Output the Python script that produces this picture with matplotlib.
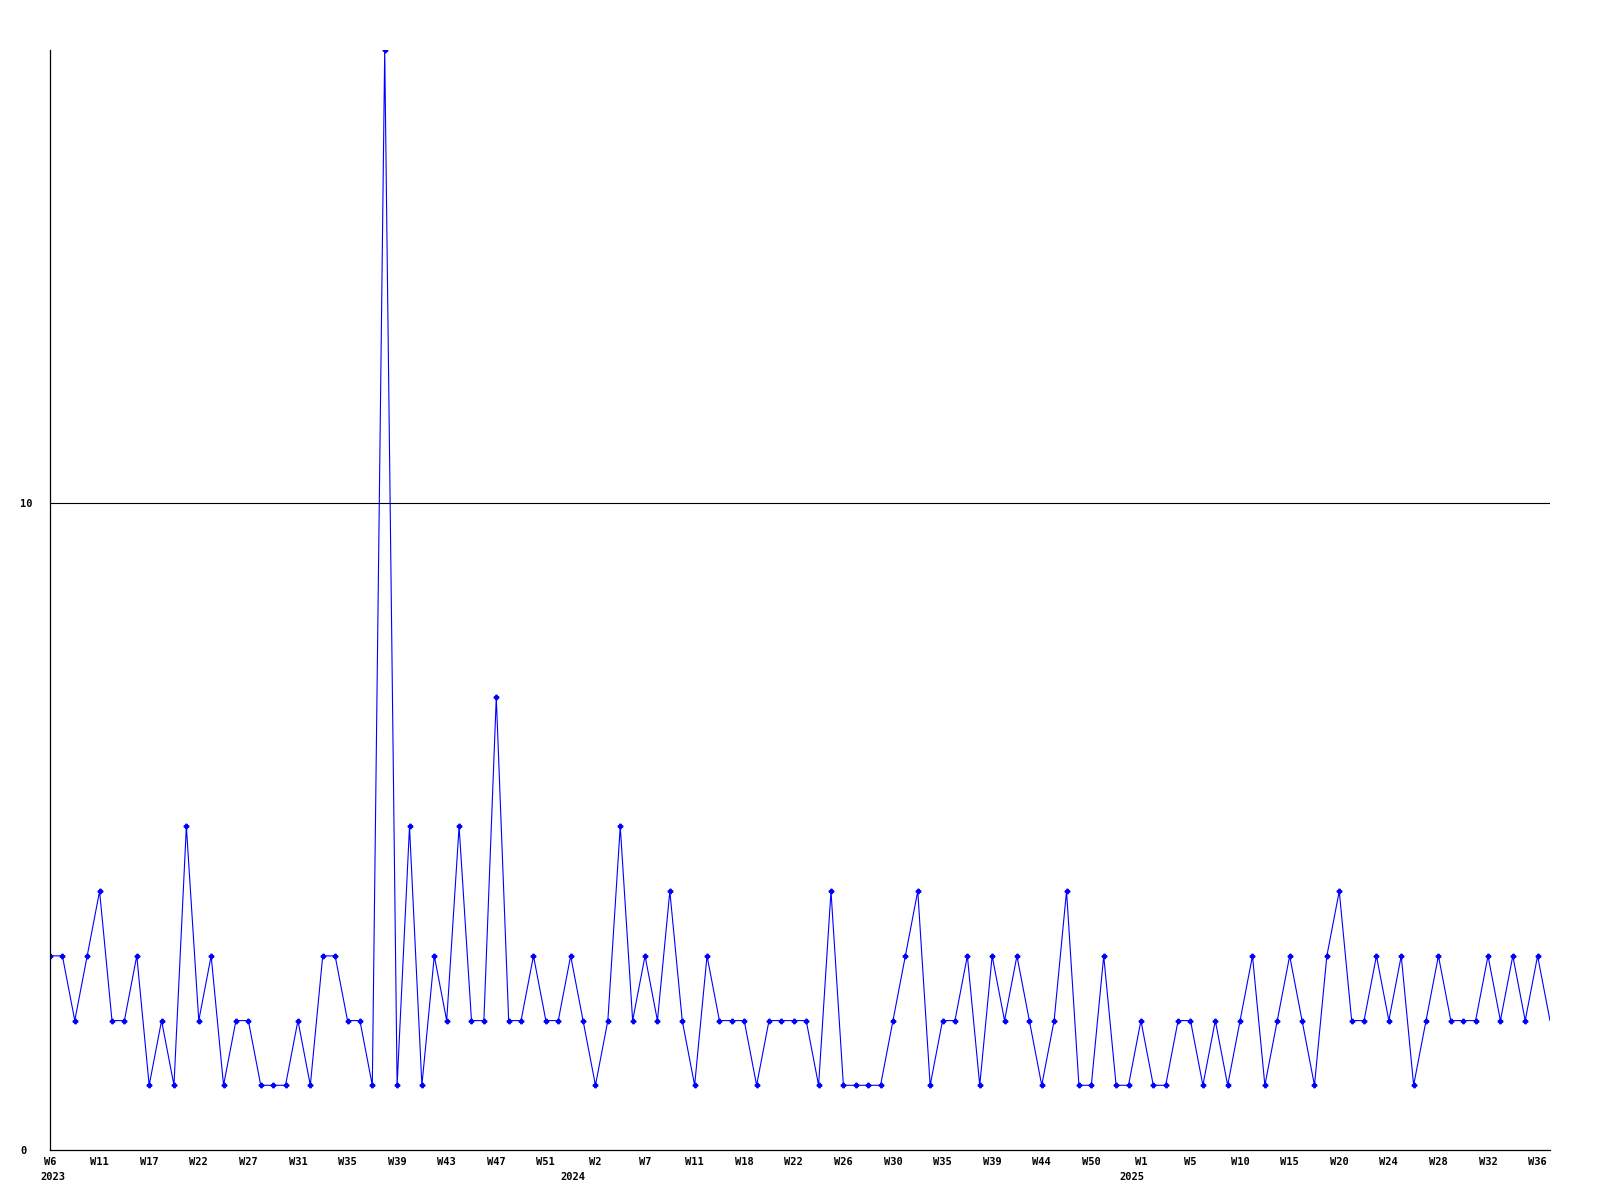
import matplotlib
matplotlib.use("Agg")
import matplotlib.pyplot as plt

# weekly values, W6 2023 .. W37 2025
values = [3, 3, 2, 3, 4, 2, 2, 3, 1, 2,
          1, 5, 2, 3, 1, 2, 2, 1, 1, 1,
          2, 1, 3, 3, 2, 2, 1, 17, 1, 5,
          1, 3, 2, 5, 2, 2, 7, 2, 2, 3,
          2, 2, 3, 2, 1, 2, 5, 2, 3, 2,
          4, 2, 1, 3, 2, 2, 2, 1, 2, 2,
          2, 2, 1, 4, 1, 1, 1, 1, 2, 3,
          4, 1, 2, 2, 3, 1, 3, 2, 3, 2,
          1, 2, 4, 1, 1, 3, 1, 1, 2, 1,
          1, 2, 2, 1, 2, 1, 2, 3, 1, 2,
          3, 2, 1, 3, 4, 2, 2, 3, 2, 3,
          1, 2, 3, 2, 2, 2, 3, 2, 3, 2,
          3, 2]

week_labels = ["W6", "W11", "W17", "W22", "W27", "W31", "W35", "W39",
               "W43", "W47", "W51", "W2", "W7", "W11", "W18", "W22",
               "W26", "W30", "W35", "W39", "W44", "W50", "W1", "W5",
               "W10", "W15", "W20", "W24", "W28", "W32", "W36"]
years = ["2023", "2024", "2025"]
year_pos = [0.2, 42.2, 87.3]

font = {"family": "DejaVu Sans Mono", "weight": "bold", "size": 7.5}

fig = plt.figure(figsize=(16, 12), dpi=100)
ax = fig.add_axes([50 / 1600, 50 / 1200, 1500 / 1600, 1100 / 1200])

x = list(range(len(values)))
ax.plot(x, values, color="#0000ff", lw=0.8)
ax.plot(x[:-1], values[:-1], ls="none", marker="P", ms=3.2, color="#0000ff")

ax.axhline(10, color="black", lw=0.8)
ax.set_xlim(0, len(values) - 1)
ax.set_ylim(0, 17)

for s in ["top", "right"]:
    ax.spines[s].set_visible(False)
for s in ["left", "bottom"]:
    ax.spines[s].set_linewidth(0.9)

ax.set_xticks(list(range(0, len(values), 4)))
ax.set_xticklabels(week_labels, fontdict=font)
ax.set_yticks([0, 10])
ax.set_yticklabels(["0", "10"], fontdict=font, ha="left")
ax.tick_params(axis="x", length=0, pad=5)
ax.tick_params(axis="y", length=0, pad=21.6)

for yr, pos in zip(years, year_pos):
    ax.text(pos, -0.0245, yr, transform=ax.get_xaxis_transform(),
            ha="center", va="center", **font)

fig.savefig("out.png", dpi=100)
